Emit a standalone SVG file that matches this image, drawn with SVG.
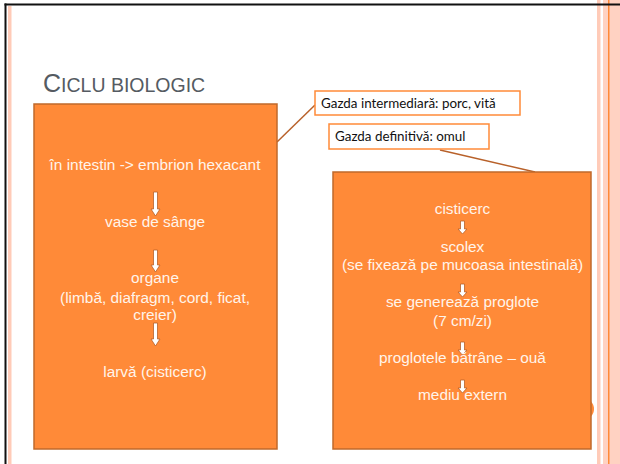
<svg xmlns="http://www.w3.org/2000/svg" width="620" height="464" viewBox="0 0 620 464">
<style>
.box{fill:#FF8A38;stroke:#C0692B;stroke-width:1.5}
.t{font-family:"Liberation Sans",Arial,sans-serif;font-size:15.4px;fill:#FFF4EA;text-anchor:middle}
.c{font-family:"Lato","Open Sans",sans-serif;font-size:13.4px;fill:#111}
.call{fill:#fff;stroke:#FF8A38;stroke-width:1.5}
.ln{stroke:#B8612A;stroke-width:1.5;fill:none}
.ar{fill:#fff;stroke:#B8612A;stroke-width:0.8}
</style>
<rect width="620" height="464" fill="#fff"/>
<!-- slide decoration -->
<rect x="597" y="0" width="3.5" height="464" fill="#FFCBB8"/>
<rect x="603" y="0" width="17" height="464" fill="#FFD2C2"/>
<rect x="608" y="0" width="1.5" height="464" fill="#FF8A38"/>
<rect x="4.5" y="3.5" width="615.5" height="2" fill="#111"/>
<rect x="4.5" y="3.5" width="2" height="460.5" fill="#111"/>
<rect x="8" y="6" width="3.5" height="458" fill="#FFCBB8"/>
<circle cx="583" cy="409" r="11" fill="#FF8A38"/>
<text x="43" y="92" font-family="'Liberation Sans',Arial,sans-serif" fill="#555b62"><tspan font-size="25">C</tspan><tspan font-size="19.5">ICLU BIOLOGIC</tspan></text>
<g id="connectors">
<line class="ln" x1="277" y1="142" x2="315" y2="105"/>
<line class="ln" x1="440" y1="150" x2="535" y2="172"/>
</g>
<g id="host-int">
<rect class="call" x="315" y="91" width="205" height="24"/>
<text class="c" x="321" y="108">Gazda intermediară: porc, vită</text>
</g>
<g id="host-def">
<rect class="call" x="329" y="124" width="160" height="25"/>
<text class="c" x="335" y="141">Gazda definitivă: omul</text>
</g>
<g id="left">
<rect class="box" x="34" y="104" width="243" height="345"/>
<text class="t" x="155" y="170">în intestin -&gt; embrion hexacant</text>
<path class="ar" d="M153.5 192h4v17h2.5l-4.5 7l-4.5-7h2.5z"/>
<text class="t" x="155" y="227">vase de sânge</text>
<path class="ar" d="M153.5 250h4v15h2.5l-4.5 7l-4.5-7h2.5z"/>
<text class="t" x="155" y="283">organe</text>
<text class="t" x="155" y="303">(limbă, diafragm, cord, ficat,</text>
<text class="t" x="155" y="320">creier)</text>
<path class="ar" d="M153.5 323h4v16h2.5l-4.5 7l-4.5-7h2.5z"/>
<text class="t" x="155" y="377">larvă (cisticerc)</text>
</g>
<g id="right">
<rect class="box" x="333" y="172" width="258" height="277"/>
<text class="t" x="462.5" y="214">cisticerc</text>
<path class="ar" d="M460.5 221h4v8h2.5l-4.5 5l-4.5-5h2.5z"/>
<text class="t" x="462.5" y="252">scolex</text>
<text class="t" x="462.5" y="270">(se fixează pe mucoasa intestinală)</text>
<path class="ar" d="M460.5 284h4v8h2.5l-4.5 5l-4.5-5h2.5z"/>
<text class="t" x="462.5" y="307">se generează proglote</text>
<text class="t" x="462.5" y="326">(7 cm/zi)</text>
<path class="ar" d="M460.5 342h4v8h2.5l-4.5 5l-4.5-5h2.5z"/>
<text class="t" x="462.5" y="363">proglotele bătrâne – ouă</text>
<path class="ar" d="M460.5 380h4v8h2.5l-4.5 5l-4.5-5h2.5z"/>
<text class="t" x="462.5" y="400">mediu extern</text>
</g>
</svg>
